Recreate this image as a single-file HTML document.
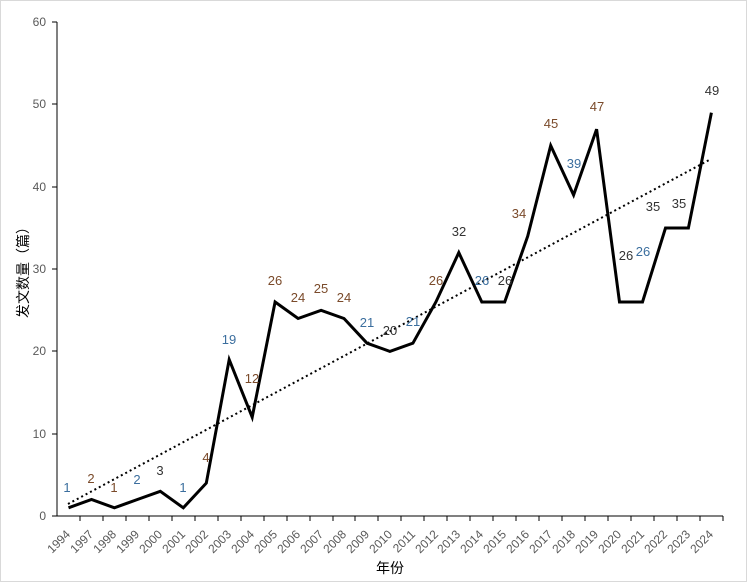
<!DOCTYPE html><html><head><meta charset="utf-8"><style>body{margin:0;background:#fff}svg{display:block}</style></head><body>
<svg width="747" height="582" viewBox="0 0 747 582" xmlns="http://www.w3.org/2000/svg" font-family="Liberation Sans, Noto Sans CJK SC, sans-serif">
<rect x="0.5" y="0.5" width="746" height="581" fill="#fff" stroke="#d9d9d9"/>
<g font-size="12" fill="#595959" text-anchor="end">
<text x="46" y="520">0</text><text x="46" y="438">10</text><text x="46" y="355">20</text><text x="46" y="273">30</text><text x="46" y="191">40</text><text x="46" y="108">50</text><text x="46" y="26">60</text>
</g>
<g stroke="#000" stroke-width="1" fill="none">
<line x1="57" y1="22" x2="57" y2="516"/><line x1="57" y1="516" x2="723" y2="516"/>
<path d="M52 516H57M52 434H57M52 351H57M52 269H57M52 187H57M52 104H57M52 22H57"/>
<path d="M80 516V521M103 516V521M126 516V521M149 516V521M172 516V521M195 516V521M218 516V521M241 516V521M264 516V521M287 516V521M310 516V521M333 516V521M355 516V521M378 516V521M401 516V521M424 516V521M447 516V521M470 516V521M493 516V521M516 516V521M539 516V521M562 516V521M585 516V521M608 516V521M631 516V521M654 516V521M677 516V521M700 516V521M723 516V521"/>
</g>
<line x1="68" y1="504" x2="711" y2="159" stroke="#000" stroke-width="2" stroke-dasharray="2,3"/>
<polyline fill="none" stroke="#000" stroke-width="3" points="68.5,507.8 91.5,499.5 114.4,507.8 137.4,499.5 160.3,491.3 183.3,507.8 206.3,483.1 229.2,359.6 252.2,417.2 275.1,302 298.1,318.5 321.1,310.3 344,318.5 367,343.2 389.9,351.4 412.9,343.2 435.9,302 458.8,252.6 481.8,302 504.7,302 527.7,236.2 550.7,145.6 573.6,195 596.6,129.2 619.5,302 642.5,302 665.5,228 688.4,228 711.4,112.7"/>
<g font-size="13" text-anchor="middle">
<text x="67" y="492" fill="#3b6e9e">1</text><text x="91" y="483" fill="#7a4a2a">2</text><text x="114" y="492" fill="#7a4a2a">1</text><text x="137" y="484" fill="#3b6e9e">2</text><text x="160" y="475" fill="#333">3</text>
<text x="183" y="492" fill="#3b6e9e">1</text><text x="206" y="462" fill="#7a4a2a">4</text><text x="229" y="344" fill="#3b6e9e">19</text><text x="252" y="383" fill="#7a4a2a">12</text><text x="275" y="285" fill="#7a4a2a">26</text>
<text x="298" y="302" fill="#7a4a2a">24</text><text x="321" y="293" fill="#7a4a2a">25</text><text x="344" y="302" fill="#7a4a2a">24</text><text x="367" y="327" fill="#3b6e9e">21</text><text x="390" y="335" fill="#333">20</text>
<text x="413" y="326" fill="#3b6e9e">21</text><text x="436" y="285" fill="#7a4a2a">26</text><text x="459" y="236" fill="#333">32</text><text x="482" y="285" fill="#3b6e9e">26</text><text x="505" y="285" fill="#333">26</text>
<text x="519" y="218" fill="#7a4a2a">34</text><text x="551" y="128" fill="#7a4a2a">45</text><text x="574" y="168" fill="#3b6e9e">39</text><text x="597" y="111" fill="#7a4a2a">47</text><text x="626" y="260" fill="#333">26</text>
<text x="643" y="256" fill="#3b6e9e">26</text><text x="653" y="211" fill="#333">35</text><text x="679" y="208" fill="#333">35</text><text x="712" y="95" fill="#333">49</text>
</g>
<g font-size="12" fill="#595959" text-anchor="end">
<text transform="translate(71,535) rotate(-45)">1994</text><text transform="translate(94,535) rotate(-45)">1997</text><text transform="translate(117,535) rotate(-45)">1998</text><text transform="translate(140,535) rotate(-45)">1999</text><text transform="translate(163,535) rotate(-45)">2000</text>
<text transform="translate(186,535) rotate(-45)">2001</text><text transform="translate(209,535) rotate(-45)">2002</text><text transform="translate(232,535) rotate(-45)">2003</text><text transform="translate(255,535) rotate(-45)">2004</text><text transform="translate(278,535) rotate(-45)">2005</text>
<text transform="translate(301,535) rotate(-45)">2006</text><text transform="translate(324,535) rotate(-45)">2007</text><text transform="translate(347,535) rotate(-45)">2008</text><text transform="translate(370,535) rotate(-45)">2009</text><text transform="translate(393,535) rotate(-45)">2010</text>
<text transform="translate(416,535) rotate(-45)">2011</text><text transform="translate(439,535) rotate(-45)">2012</text><text transform="translate(461,535) rotate(-45)">2013</text><text transform="translate(484,535) rotate(-45)">2014</text><text transform="translate(507,535) rotate(-45)">2015</text>
<text transform="translate(530,535) rotate(-45)">2016</text><text transform="translate(553,535) rotate(-45)">2017</text><text transform="translate(576,535) rotate(-45)">2018</text><text transform="translate(599,535) rotate(-45)">2019</text><text transform="translate(622,535) rotate(-45)">2020</text>
<text transform="translate(645,535) rotate(-45)">2021</text><text transform="translate(668,535) rotate(-45)">2022</text><text transform="translate(691,535) rotate(-45)">2023</text><text transform="translate(714,535) rotate(-45)">2024</text>
</g>
<text x="390" y="573" font-size="14" text-anchor="middle" fill="#000">年份</text>
<text transform="translate(28,269) rotate(-90)" font-size="14" text-anchor="middle" fill="#000">发文数量（篇）</text>
</svg></body></html>
